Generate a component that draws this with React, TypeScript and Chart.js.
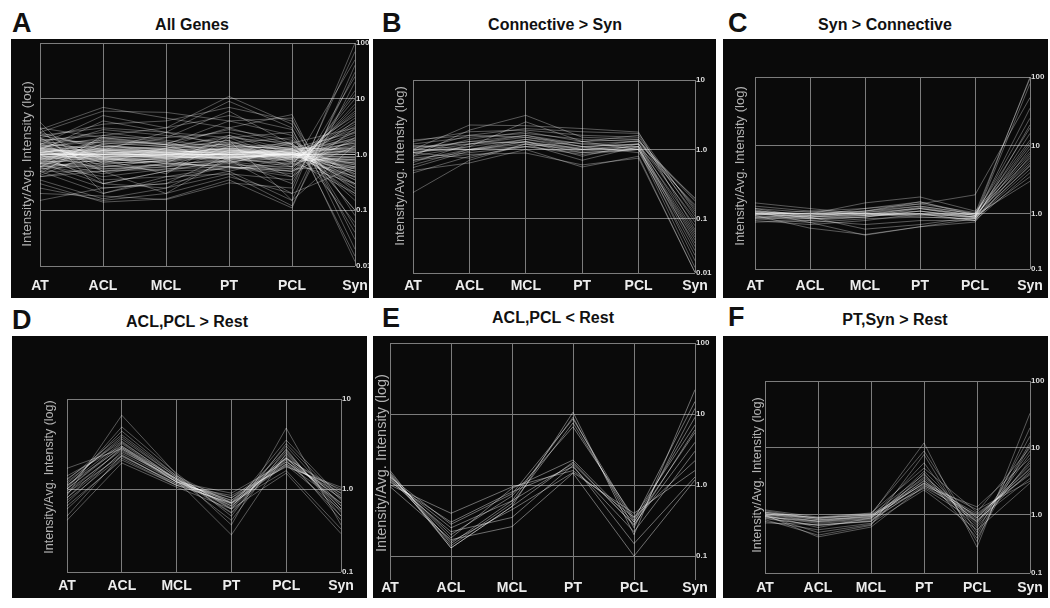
import React, { useEffect, useRef } from "react";
import { Chart, registerables } from "chart.js";
Chart.register(...registerables);

const categories = ["AT", "ACL", "MCL", "PT", "PCL", "Syn"];

// Each row: [AT, ACL, MCL, PT, PCL, Syn] intensity / average intensity
const genesAll: number[][] = [
  [1.0, 1.0, 1.0, 1.0, 1.0, 1.0],
  [1.1, 0.95, 1.05, 1.1, 0.95, 0.9],
  [0.9, 1.1, 0.95, 0.9, 1.05, 1.1],
  [1.2, 0.9, 1.1, 1.2, 0.9, 0.8],
  [0.85, 1.15, 0.9, 0.85, 1.1, 1.3],
  [1.3, 0.85, 1.0, 1.15, 1.0, 0.7],
  [0.75, 1.2, 1.1, 0.9, 1.0, 1.4],
  [1.05, 1.05, 0.9, 1.05, 1.05, 0.85],
  [0.95, 0.9, 1.15, 1.2, 0.95, 1.2],
  [1.15, 1.1, 1.2, 0.95, 0.9, 0.6],
  [0.8, 0.95, 0.85, 1.0, 1.1, 1.6],
  [1.25, 1.0, 0.95, 0.85, 1.0, 0.75],
  [0.9, 0.85, 1.0, 1.3, 1.1, 1.0],
  [1.1, 1.25, 1.05, 1.0, 0.9, 0.5],
  [0.7, 1.05, 1.15, 1.1, 1.15, 1.8],
  [1.4, 0.8, 0.9, 1.0, 0.95, 0.65],
  [0.95, 1.3, 1.1, 0.8, 1.05, 0.9],
  [1.05, 0.8, 0.8, 1.15, 1.2, 1.1],
  [0.85, 1.0, 1.25, 1.25, 0.85, 1.25],
  [1.2, 1.15, 0.85, 0.9, 1.0, 0.55],
  [1.05, 0.9, 0.95, 1.1, 1.05, 0.7],
  [0.9, 1.05, 1.1, 0.95, 0.9, 1.5],
  [1.15, 0.95, 0.9, 1.05, 1.1, 0.45],
  [0.8, 1.1, 1.05, 1.15, 0.95, 2.2],
  [1.3, 1.0, 1.1, 0.9, 1.05, 0.35],
  [0.7, 0.9, 0.95, 1.2, 1.1, 2.8],
  [1.2, 1.2, 1.0, 1.0, 0.85, 0.4],
  [0.85, 0.8, 0.9, 1.05, 1.2, 1.9],
  [1.0, 1.15, 1.2, 1.25, 1.0, 0.6],
  [0.95, 0.85, 0.8, 0.9, 0.9, 1.7],
  [1.1, 1.3, 1.15, 1.1, 1.15, 0.3],
  [0.75, 0.75, 0.85, 0.95, 0.8, 3.2],
  [1.35, 0.9, 1.05, 1.3, 0.95, 0.5],
  [0.65, 1.0, 0.9, 0.85, 1.05, 2.4],
  [1.45, 1.1, 0.95, 1.05, 1.1, 0.25],
  [0.6, 0.7, 0.75, 0.9, 0.75, 4.5],
  [1.25, 1.4, 1.3, 1.4, 1.25, 0.28],
  [0.7, 0.6, 0.65, 0.8, 0.7, 5.5],
  [1.6, 1.2, 1.1, 1.6, 1.3, 0.18],
  [0.55, 0.85, 0.7, 0.75, 0.85, 3.8],
  [1.1, 0.75, 0.85, 0.95, 1.3, 1.2],
  [0.9, 1.2, 1.3, 1.5, 0.8, 0.8],
  [1.5, 0.7, 0.75, 1.1, 0.75, 0.9],
  [0.6, 1.4, 1.25, 1.0, 1.4, 1.1],
  [1.2, 0.65, 0.9, 1.7, 0.9, 0.7],
  [0.8, 1.5, 1.05, 0.7, 1.25, 1.3],
  [1.0, 0.55, 0.65, 0.65, 0.6, 2.6],
  [1.05, 1.7, 1.5, 1.2, 1.5, 0.38],
  [1.3, 0.5, 0.6, 0.9, 0.65, 1.8],
  [0.7, 2.0, 1.6, 1.1, 1.7, 0.42],
  [2.4, 0.8, 1.0, 1.3, 1.1, 0.55],
  [0.42, 1.2, 1.0, 0.85, 1.0, 1.6],
  [1.9, 1.6, 1.4, 2.0, 1.6, 0.22],
  [0.5, 0.5, 0.55, 0.6, 0.55, 7],
  [1.0, 1.0, 1.3, 2.2, 1.2, 0.65],
  [1.1, 0.9, 0.7, 0.6, 0.5, 1.4],
  [1.6, 0.6, 0.8, 1.5, 1.2, 0.5],
  [0.5, 1.6, 1.4, 0.8, 0.9, 2.0],
  [1.8, 0.7, 1.3, 1.8, 0.7, 0.3],
  [0.6, 1.9, 1.5, 0.7, 1.3, 2.5],
  [2.0, 0.5, 0.7, 2.2, 1.0, 0.4],
  [0.45, 2.2, 1.7, 0.9, 1.6, 3.0],
  [1.5, 1.3, 2.0, 2.5, 1.4, 0.35],
  [0.7, 0.55, 0.6, 1.4, 0.6, 4.0],
  [2.2, 1.4, 1.2, 1.0, 0.8, 0.2],
  [0.55, 0.65, 0.5, 0.55, 0.7, 6.0],
  [1.7, 2.5, 1.8, 1.3, 1.6, 0.15],
  [0.65, 0.4, 0.55, 0.7, 0.5, 8.0],
  [1.3, 2.8, 2.2, 1.6, 2.0, 0.1],
  [0.8, 0.45, 0.7, 0.6, 0.45, 10],
  [2.5, 1.2, 1.4, 3.0, 1.5, 0.25],
  [0.4, 0.6, 0.8, 0.5, 0.9, 5],
  [1.9, 0.9, 0.6, 0.75, 0.55, 0.6],
  [0.6, 0.8, 0.45, 2.0, 0.8, 3.5],
  [1.4, 1.7, 1.6, 2.8, 1.8, 0.45],
  [0.9, 0.35, 0.4, 0.45, 0.35, 14],
  [3.8, 0.3, 0.5, 1.2, 1.0, 0.8],
  [3.0, 0.2, 0.4, 0.6, 0.5, 2.0],
  [2.8, 7.0, 4.5, 3.0, 5.2, 0.03],
  [2.5, 6.0, 5.7, 4.0, 4.5, 0.02],
  [1.5, 5.0, 3.0, 11, 3.5, 0.05],
  [1.2, 4.0, 2.5, 9.0, 3.0, 0.012],
  [2.0, 3.5, 4.0, 7.0, 4.0, 0.08],
  [0.3, 0.14, 0.16, 0.35, 0.11, 40],
  [0.25, 0.15, 0.2, 0.4, 0.2, 100],
  [0.2, 0.18, 0.155, 0.31, 0.25, 70],
  [0.15, 0.25, 0.3, 0.5, 0.15, 30],
  [0.35, 0.16, 0.25, 0.45, 0.12, 20],
  [0.5, 0.2, 0.35, 0.6, 0.4, 12],
  [1.0, 0.3, 0.25, 0.8, 0.3, 25],
  [0.4, 0.5, 0.2, 0.9, 0.6, 50],
  [2.2, 3.0, 2.5, 2.0, 2.5, 0.015],
  [1.8, 2.2, 3.0, 5.0, 2.8, 0.04],
  [1.6, 1.8, 1.5, 4.0, 2.2, 0.1],
  [1.3, 2.0, 2.0, 6.0, 1.5, 0.06],
  [0.7, 0.3, 0.5, 0.8, 0.2, 0.6],
  [1.1, 1.5, 1.2, 1.8, 0.15, 1.5],
  [0.6, 0.25, 0.3, 1.0, 0.4, 3],
  [3.0, 2.0, 1.5, 1.5, 1.2, 0.2],
  [1.0, 1.2, 2.5, 1.4, 1.3, 0.3],
];

const genesConnective: number[][] = [
  [0.9, 1.2, 1.5, 1.1, 1.2, 0.1],
  [0.8, 1.1, 1.4, 1.0, 1.1, 0.08],
  [1.0, 1.3, 1.6, 1.2, 1.3, 0.15],
  [0.7, 1.0, 1.3, 0.9, 1.0, 0.05],
  [0.85, 1.4, 1.8, 1.3, 1.4, 0.12],
  [1.1, 1.2, 1.3, 1.0, 1.2, 0.2],
  [0.95, 1.0, 1.2, 0.95, 1.05, 0.06],
  [0.75, 0.9, 1.1, 0.85, 1.0, 0.03],
  [1.2, 1.5, 1.7, 1.4, 1.3, 0.18],
  [0.6, 1.0, 1.4, 1.1, 1.2, 0.04],
  [0.9, 0.75, 1.2, 0.7, 1.1, 0.025],
  [1.3, 1.8, 1.9, 1.6, 1.5, 0.14],
  [0.5, 0.64, 1.0, 0.56, 0.8, 0.017],
  [1.0, 2.25, 2.2, 2.0, 1.78, 0.07],
  [0.8, 1.9, 3.1, 1.5, 1.4, 0.09],
  [1.37, 1.6, 1.5, 1.2, 1.1, 0.16],
  [0.46, 0.8, 1.1, 0.9, 1.0, 0.02],
  [0.24, 0.7, 1.2, 1.0, 1.1, 0.035],
  [0.9, 1.1, 2.5, 1.3, 1.6, 0.11],
  [1.05, 1.3, 1.25, 1.05, 1.35, 0.19],
  [0.7, 0.85, 0.89, 0.6, 0.75, 0.017],
  [0.95, 1.6, 2.0, 1.8, 1.7, 0.13],
  [0.65, 1.2, 1.6, 1.1, 0.9, 0.045],
  [1.15, 1.0, 1.1, 1.3, 1.0, 0.055],
  [0.55, 0.95, 1.3, 0.8, 1.2, 0.065],
];

const genesSyn: number[][] = [
  [1.0, 0.9, 1.0, 1.2, 0.9, 100],
  [1.1, 0.95, 1.05, 1.3, 1.0, 95],
  [0.9, 0.8, 0.9, 1.1, 0.85, 80],
  [1.0, 1.0, 1.1, 1.4, 1.9, 50],
  [1.2, 0.9, 0.95, 1.0, 0.9, 35],
  [0.95, 0.85, 0.9, 1.2, 0.95, 25],
  [1.05, 1.0, 1.0, 1.0, 0.8, 20],
  [0.85, 0.75, 0.85, 0.9, 0.85, 15],
  [1.3, 1.1, 1.2, 1.5, 1.0, 12],
  [1.0, 0.9, 1.0, 1.1, 0.9, 10],
  [0.8, 0.7, 0.8, 1.0, 0.8, 9],
  [1.1, 1.0, 1.45, 1.77, 1.1, 8],
  [0.95, 0.62, 0.5, 0.65, 0.76, 7],
  [1.0, 0.95, 1.05, 1.2, 0.95, 6],
  [1.2, 1.05, 1.1, 1.3, 1.0, 5.5],
  [0.9, 0.85, 0.95, 1.0, 0.9, 5],
  [1.45, 1.2, 1.0, 0.9, 0.85, 4.5],
  [0.76, 0.8, 0.7, 0.8, 0.8, 4],
  [1.0, 0.9, 0.6, 0.7, 0.9, 3.5],
  [1.05, 1.0, 0.95, 1.25, 0.95, 3],
  [0.9, 0.95, 1.2, 1.4, 1.05, 6.5],
  [1.15, 0.85, 0.9, 1.1, 0.9, 11],
  [1.0, 1.1, 1.0, 0.95, 1.0, 18],
  [0.85, 0.9, 1.1, 1.5, 0.95, 7.5],
  [1.1, 0.75, 0.49, 0.65, 0.85, 5.2],
];

const genesAclPclUp: number[][] = [
  [1.0, 3.0, 1.2, 0.65, 2.2, 0.7],
  [0.9, 2.8, 1.25, 0.7, 2.0, 0.8],
  [1.1, 3.3, 1.3, 0.6, 2.4, 0.65],
  [0.8, 2.5, 1.2, 0.75, 1.9, 0.9],
  [1.2, 3.6, 1.35, 0.55, 2.6, 0.6],
  [0.75, 2.3, 1.15, 0.8, 1.8, 1.0],
  [1.26, 4.0, 1.4, 0.7, 2.7, 0.55],
  [0.7, 2.6, 1.3, 0.65, 2.1, 0.5],
  [1.0, 4.9, 1.5, 0.5, 3.2, 0.75],
  [0.6, 2.2, 1.1, 0.85, 1.76, 1.05],
  [1.4, 3.0, 1.3, 0.54, 2.3, 0.45],
  [0.85, 6.6, 1.45, 0.4, 4.76, 0.4],
  [1.7, 2.8, 1.2, 0.9, 2.0, 0.85],
  [0.45, 1.95, 1.05, 0.6, 1.5, 0.32],
  [1.0, 3.2, 1.25, 0.31, 2.5, 0.6],
  [0.95, 2.7, 1.2, 0.75, 2.2, 0.95],
  [0.5, 2.4, 1.1, 0.7, 1.9, 0.7],
  [1.15, 3.8, 1.35, 0.62, 3.5, 0.8],
  [0.8, 2.9, 1.3, 0.45, 2.8, 0.5],
  [1.3, 3.4, 1.25, 0.8, 2.2, 0.9],
  [0.65, 2.1, 1.1, 0.7, 1.6, 0.36],
  [1.05, 4.4, 1.4, 0.6, 3.0, 0.65],
  [0.9, 2.35, 1.15, 0.68, 1.85, 0.58],
  [1.1, 2.9, 1.2, 0.72, 2.15, 0.78],
];

const genesAclPclDown: number[][] = [
  [1.6, 0.13, 0.5, 10.6, 0.2, 22],
  [1.5, 0.15, 0.6, 9.0, 0.25, 12],
  [1.4, 0.14, 0.55, 7.5, 0.3, 9],
  [1.3, 0.2, 0.7, 6.6, 0.35, 7],
  [1.35, 0.18, 0.9, 2.25, 0.3, 5.5],
  [1.2, 0.25, 0.6, 2.0, 0.28, 4],
  [1.1, 0.3, 0.8, 1.8, 0.22, 3],
  [1.0, 0.4, 0.94, 1.6, 0.35, 2.2],
  [1.25, 0.16, 0.45, 1.5, 0.4, 1.6],
  [1.15, 0.22, 0.35, 1.9, 0.15, 1.3],
  [0.95, 0.17, 0.26, 1.47, 0.1, 1.18],
  [1.45, 0.13, 0.5, 2.1, 0.27, 6],
  [1.3, 0.28, 0.75, 8.5, 0.32, 15],
];

const genesPtSyn: number[][] = [
  [1.0, 0.8, 0.9, 3.0, 0.9, 5],
  [1.05, 0.85, 0.95, 3.5, 0.8, 6],
  [0.95, 0.75, 0.85, 2.6, 1.0, 4.2],
  [1.1, 0.9, 1.0, 4.0, 0.7, 8],
  [0.9, 0.7, 0.8, 2.8, 0.85, 3.5],
  [1.19, 0.93, 1.07, 5.0, 1.1, 10],
  [0.8, 0.6, 0.75, 2.36, 0.6, 3],
  [1.0, 0.65, 0.9, 6.0, 0.5, 12],
  [1.05, 0.8, 0.95, 3.2, 0.95, 4.8],
  [0.85, 0.5, 0.7, 8.0, 0.4, 20],
  [1.15, 0.88, 1.0, 11.9, 0.33, 33],
  [0.95, 0.78, 0.88, 3.7, 0.9, 5.5],
  [1.0, 0.47, 0.66, 2.7, 1.32, 7],
  [0.76, 0.72, 0.8, 4.5, 0.75, 9],
  [1.1, 0.85, 0.92, 3.0, 1.2, 3.2],
  [0.92, 0.82, 0.98, 2.5, 0.8, 4.5],
  [1.08, 0.9, 1.05, 9.0, 0.55, 15],
  [0.88, 0.7, 0.82, 3.3, 0.65, 6.5],
  [1.0, 0.92, 1.0, 2.9, 1.05, 4],
  [0.97, 0.55, 0.72, 4.2, 0.45, 11],
];

// y-axis tick values and labels per panel
const ticksA = [0.01, 0.1, 1, 10, 100];
const tickLabelsA = ["0.01", "0.1", "1.0", "10", "100"];
const ticksB = [0.0167, 0.1, 1, 10];
const tickLabelsB = ["0.01", "0.1", "1.0", "10"];
const ticksC = [0.157, 1, 10, 100];
const tickLabelsC = ["0.1", "1.0", "10", "100"];
const ticksD = [0.12, 1, 10];
const tickLabelsD = ["0.1", "1.0", "10"];
const ticksE = [0.046, 0.1, 1, 10, 100];
const tickLabelsE = ["", "0.1", "1.0", "10", "100"];
const ticksF = [0.136, 1, 10, 100];
const tickLabelsF = ["0.1", "1.0", "10", "100"];

const yAxisTitle = "Intensity/Avg. Intensity (log)";
const FONT = '"Liberation Sans", Arial, Helvetica, sans-serif';

type Spec = {
  letter: string;
  title: string;
  data: number[][];
  ticks: number[];
  tickLabels: string[];
  box: [number, number, number, number];
  plot: [number, number, number, number];
  xPad: number;
  yTitle: [number, number, number];
  titlePos: [number, number];
  letterPos: [number, number];
  alpha: number;
  lw: number;
};

const panels: Spec[] = [
  { letter: "A", title: "All Genes", data: genesAll, ticks: ticksA, tickLabels: tickLabelsA,
    box: [11, 39, 358, 259], plot: [40, 43, 355, 266], xPad: 12, yTitle: [27, 164, 13.5],
    titlePos: [192, 25], letterPos: [12, 13], alpha: 0.3, lw: 1 },
  { letter: "B", title: "Connective > Syn", data: genesConnective, ticks: ticksB, tickLabels: tickLabelsB,
    box: [373, 39, 343, 259], plot: [413, 80, 695, 273], xPad: 5, yTitle: [400, 166, 13],
    titlePos: [555, 25], letterPos: [382, 13], alpha: 0.4, lw: 0.8 },
  { letter: "C", title: "Syn > Connective", data: genesSyn, ticks: ticksC, tickLabels: tickLabelsC,
    box: [723, 39, 325, 259], plot: [755, 77, 1030, 269], xPad: 9, yTitle: [740, 166, 13],
    titlePos: [885, 25], letterPos: [728, 13], alpha: 0.4, lw: 0.8 },
  { letter: "D", title: "ACL,PCL > Rest", data: genesAclPclUp, ticks: ticksD, tickLabels: tickLabelsD,
    box: [12, 336, 355, 262], plot: [67, 399, 341, 572], xPad: 6, yTitle: [50, 477, 12.5],
    titlePos: [187, 322], letterPos: [12, 310], alpha: 0.4, lw: 0.8 },
  { letter: "E", title: "ACL,PCL < Rest", data: genesAclPclDown, ticks: ticksE, tickLabels: tickLabelsE,
    box: [373, 336, 343, 262], plot: [390, 343, 695, 580], xPad: 0, yTitle: [382, 463, 14.5],
    titlePos: [553, 318], letterPos: [382, 308], alpha: 0.45, lw: 0.9 },
  { letter: "F", title: "PT,Syn > Rest", data: genesPtSyn, ticks: ticksF, tickLabels: tickLabelsF,
    box: [723, 336, 325, 262], plot: [765, 381, 1030, 573], xPad: 7, yTitle: [757, 475, 12.7],
    titlePos: [895, 320], letterPos: [728, 307], alpha: 0.4, lw: 0.8 },
];

const GRID = "#7c7c7c";

function Panel({ spec }: { spec: Spec }) {
  const ref = useRef<HTMLCanvasElement>(null);
  const [bx, by, bw, bh] = spec.box;
  useEffect(() => {
    const [L, T, R, B] = spec.plot;
    const yTitlePlugin = {
      id: "yTitle",
      afterDraw(chart: any) {
        const ctx = chart.ctx;
        ctx.save();
        ctx.fillStyle = "#b2b2b2";
        ctx.font = `${spec.yTitle[2]}px ${FONT}`;
        ctx.translate(spec.yTitle[0] - bx, spec.yTitle[1] - by);
        ctx.rotate(-Math.PI / 2);
        ctx.textAlign = "center";
        ctx.textBaseline = "middle";
        ctx.fillText(yAxisTitle, 0, 0);
        ctx.restore();
      },
    };
    const chart = new Chart(ref.current!, {
      type: "line",
      data: {
        labels: categories,
        datasets: spec.data.map((row) => ({
          data: row,
          borderColor: `rgba(255,255,255,${spec.alpha})`,
          borderWidth: spec.lw,
          pointRadius: 0,
          fill: false,
          tension: 0,
        })),
      },
      options: {
        animation: false,
        responsive: false,
        events: [],
        layout: { padding: { left: L - bx, top: T - by, right: 0, bottom: 0 } },
        plugins: { legend: { display: false }, tooltip: { enabled: false }, title: { display: false } },
        scales: {
          x: {
            type: "category",
            offset: false,
            grid: { color: GRID, lineWidth: 1, drawTicks: false },
            border: { display: false },
            ticks: {
              color: "#ececec",
              font: { family: FONT, size: 14, weight: "bold" },
              padding: spec.xPad,
              maxRotation: 0,
              autoSkip: false,
            },
            afterFit: (s: any) => {
              s.height = bh - (B - by);
              s.paddingLeft = 0;
              s.paddingRight = 0;
            },
          },
          y: {
            type: "logarithmic",
            position: "right",
            min: spec.ticks[0],
            max: spec.ticks[spec.ticks.length - 1],
            grid: {
              color: (c: any) => (c.tick && spec.tickLabels[c.index] === "" ? "rgba(0,0,0,0)" : GRID),
              lineWidth: 1,
              drawTicks: false,
            },
            border: { display: false },
            afterBuildTicks: (s: any) => {
              s.ticks = spec.ticks.map((v) => ({ value: v }));
            },
            ticks: {
              color: "#dcdcdc",
              font: { family: FONT, size: 8, weight: "bold" },
              padding: 1,
              callback: (_v: any, i: number) => spec.tickLabels[i],
            },
            afterFit: (s: any) => {
              s.width = bw - (R - bx);
              s.paddingTop = 0;
              s.paddingBottom = 0;
            },
          },
        },
      } as any,
      plugins: [yTitlePlugin],
    });
    return () => chart.destroy();
  }, []);
  return (
    <canvas
      ref={ref}
      width={bw}
      height={bh}
      style={{ position: "absolute", left: bx, top: by, width: bw, height: bh, background: "#0a0a0a" }}
    />
  );
}

export default function App() {
  return (
    <div style={{ position: "absolute", left: 0, top: 0, width: 1050, height: 608, background: "#fff", overflow: "hidden", fontFamily: FONT }}>
      {panels.map((p) => (
        <React.Fragment key={p.letter}>
          <div style={{ position: "absolute", left: p.letterPos[0], top: p.letterPos[1] - 3.5, fontSize: 27, lineHeight: "27px", fontWeight: "bold", color: "#111" }}>
            {p.letter}
          </div>
          <div style={{ position: "absolute", left: p.titlePos[0] - 150, width: 300, top: p.titlePos[1] - 8, fontSize: 16, lineHeight: "16px", fontWeight: "bold", color: "#111", textAlign: "center" }}>
            {p.title}
          </div>
          <Panel spec={p} />
        </React.Fragment>
      ))}
    </div>
  );
}
